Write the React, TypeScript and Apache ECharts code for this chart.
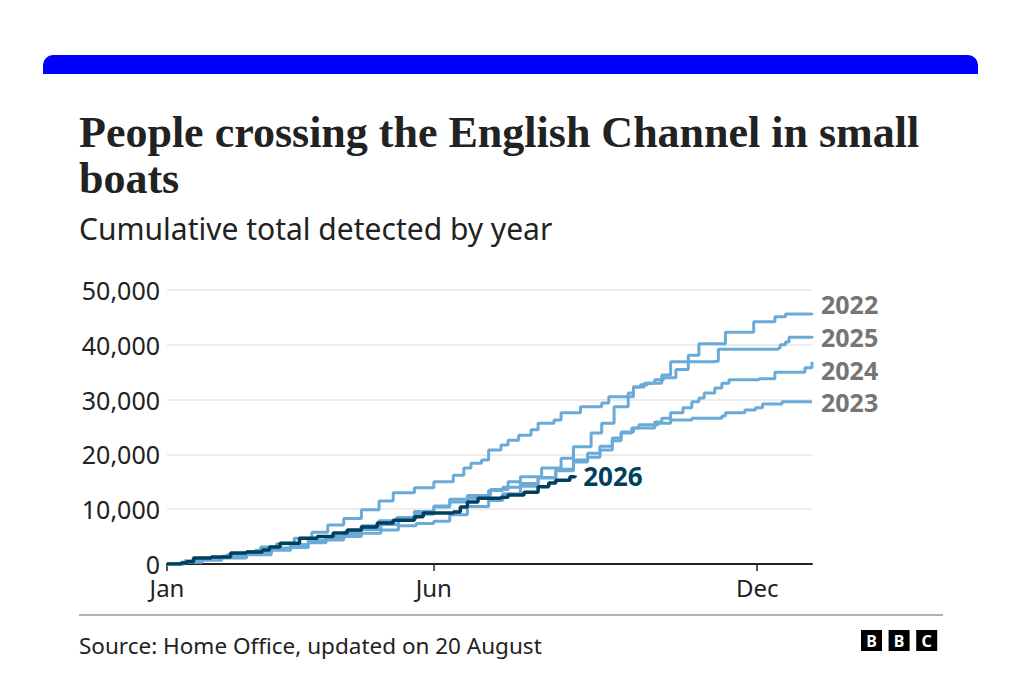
import React, { useEffect, useRef } from 'react';
import * as echarts from 'echarts';

// day of year (0 = 1 Jan), cumulative people detected
const year2022: [number, number][] = [
  [0, 0], [10, 600], [20, 1100], [31, 1400], [40, 1900], [50, 2500], [59, 2700], [70, 3500],
  [80, 4300], [90, 5000], [100, 5800], [110, 7000], [120, 7900], [130, 8500], [140, 9600],
  [151, 10600], [160, 11800], [170, 12500], [183, 13600], [193, 15000], [200, 15900],
  [212, 17500], [223, 19300], [230, 21400], [240, 23900], [246, 25700], [253, 28700],
  [261, 30500], [264, 32300], [270, 33000], [280, 34500], [285, 36900], [295, 38100],
  [301, 40200], [316, 42300], [332, 44200], [344, 45100], [350, 45600], [365, 45800],
];

const year2023: [number, number][] = [
  [0, 0], [10, 300], [20, 700], [31, 1100], [45, 1700], [59, 2500], [70, 3000], [80, 3900],
  [90, 4400], [100, 5000], [110, 5600], [121, 6200], [131, 7000], [141, 7400], [151, 7800],
  [160, 9000], [170, 10500], [182, 11600], [190, 12800], [200, 14200], [210, 15800],
  [220, 17300], [230, 19000], [238, 20200], [245, 21500], [252, 23000], [257, 23900],
  [263, 24800], [267, 25400], [278, 25700], [285, 26300], [297, 26600], [314, 27000],
  [316, 27600], [327, 28100], [333, 28500], [337, 29200], [348, 29600], [365, 29600],
];

const year2024: [number, number][] = [
  [0, 0], [10, 400], [20, 900], [31, 1300], [45, 2000], [59, 2900], [70, 3500], [80, 4300],
  [90, 4600], [100, 5500], [110, 6300], [121, 7200], [131, 8300], [141, 9100], [151, 10400],
  [160, 11300], [170, 12000], [182, 13400], [190, 14000], [200, 14700], [210, 15700],
  [220, 17000], [230, 18600], [238, 19500], [245, 20800], [252, 22500], [257, 24100],
  [264, 24800], [276, 25900], [280, 26600], [285, 27600], [292, 28500], [297, 29600],
  [301, 30300], [304, 31200], [310, 32100], [314, 33000], [318, 33600], [335, 33800],
  [344, 35000], [359, 35000], [361, 35800], [365, 36900],
];

const year2025: [number, number][] = [
  [0, 0], [8, 300], [15, 1000], [25, 1200], [34, 1700], [45, 2300], [53, 3100], [62, 3700],
  [72, 4700], [82, 5800], [91, 7100], [100, 8300], [110, 9900], [120, 11500], [128, 13000],
  [140, 13900], [151, 15000], [162, 16200], [168, 17500], [172, 18400], [178, 19000],
  [182, 20800], [189, 21700], [193, 22600], [199, 23500], [206, 24500], [210, 25700],
  [219, 26300], [223, 27600], [234, 28700], [246, 29400], [250, 30500], [261, 31200],
  [264, 32300], [268, 32700], [272, 33000], [276, 33600], [281, 34000], [288, 35500],
  [295, 36900], [309, 37000], [312, 39200], [346, 39400], [347, 40000], [350, 40500],
  [352, 41400], [365, 41600],
];

const year2026: [number, number][] = [
  [0, 0], [8, 200], [11, 400], [15, 1100], [25, 1300], [36, 2000], [45, 2200], [54, 2550],
  [58, 3100], [64, 3800], [75, 4700], [85, 5000], [94, 5650], [102, 6200], [110, 6750],
  [119, 7500], [128, 8000], [140, 8600], [145, 9300], [162, 9500], [166, 10400], [170, 11300],
  [176, 12000], [189, 12200], [193, 12600], [202, 13100], [210, 14100], [216, 14800],
  [220, 15300], [228, 15900], [231, 16100],
];

const monthTicks = [0, 151, 334];
const monthLabels = ['Jan', 'Jun', 'Dec'];
const yTicks = [0, 10000, 20000, 30000, 40000, 50000];

const LIGHT = '#6aaad9';
const DARK = '#00405f';
const SANS = '"Noto Sans", "Open Sans", sans-serif';

const App = () => {
  const chartRef = useRef<HTMLDivElement>(null);

  useEffect(() => {
    if (!chartRef.current) return;
    const chart = echarts.init(chartRef.current, null, { renderer: 'svg' });

    const pastYear = (name: string, data: [number, number][], offsetY: number) => ({
      name,
      type: 'line',
      step: 'end',
      data,
      symbol: 'none',
      lineStyle: { color: LIGHT, width: 3 },
      z: 2,
      endLabel: {
        show: true,
        formatter: name,
        color: '#757575',
        fontFamily: SANS,
        fontWeight: 'bold',
        fontSize: 25,
        lineHeight: 24,
        distance: 9,
        offset: [0, offsetY],
      },
    });

    const option = {
      animation: false,
      backgroundColor: '#ffffff',
      grid: { left: 167, right: 219, top: 290, bottom: 125 },
      xAxis: {
        type: 'value',
        min: 0,
        max: 365,
        axisLine: { show: true, lineStyle: { color: '#222', width: 2 } },
        axisTick: { show: true, customValues: monthTicks, length: 7, lineStyle: { color: '#222', width: 1.5 } },
        axisLabel: {
          customValues: monthTicks,
          formatter: (v: number) => monthLabels[monthTicks.indexOf(v)] ?? '',
          color: '#222',
          fontFamily: SANS,
          fontSize: 24,
          lineHeight: 22,
          margin: 12,
        },
        splitLine: { show: false },
      },
      yAxis: {
        type: 'value',
        min: 0,
        max: 50000,
        interval: 10000,
        axisLine: { show: false },
        axisTick: { show: false },
        axisLabel: {
          formatter: (v: number) => (yTicks.includes(v) ? v.toLocaleString('en-GB') : ''),
          color: '#222',
          fontFamily: SANS,
          fontSize: 25,
          lineHeight: 20,
          margin: 7,
        },
        splitLine: { show: true, lineStyle: { color: '#e6e6e6', width: 1.5 } },
      },
      series: [
        pastYear('2023', year2023, 0),
        pastYear('2024', year2024, 8),
        pastYear('2025', year2025, 1),
        pastYear('2022', year2022, -9),
        {
          name: '2026',
          type: 'line',
          step: 'end',
          data: year2026,
          symbol: 'none',
          lineStyle: { color: DARK, width: 3.5 },
          z: 5,
          endLabel: {
            show: true,
            formatter: '2026',
            color: DARK,
            fontFamily: SANS,
            fontWeight: 'bold',
            fontSize: 26,
            lineHeight: 24,
            distance: 8,
          },
        },
      ],
      graphic: [
        {
          type: 'rect',
          shape: { x: 43, y: 55, width: 935, height: 19, r: [10, 10, 0, 0] },
          style: { fill: '#0000ff' },
        },
        {
          type: 'text',
          x: 79,
          y: 109,
          style: {
            text: 'People crossing the English Channel in small\nboats',
            font: 'bold 44px "Liberation Serif", serif',
            lineHeight: 46,
            fill: '#222222',
          },
        },
        {
          type: 'text',
          x: 79,
          y: 213,
          style: {
            text: 'Cumulative total detected by year',
            font: `30px ${SANS}`,
            fill: '#222222',
          },
        },
        {
          type: 'line',
          shape: { x1: 79, y1: 615, x2: 943, y2: 615 },
          style: { stroke: '#999999', lineWidth: 1.5 },
        },
        {
          type: 'text',
          x: 79,
          y: 645,
          style: {
            text: 'Source: Home Office, updated on 20 August',
            font: `22.5px ${SANS}`,
            fill: '#222222',
            verticalAlign: 'middle',
          },
        },
        ...['B', 'B', 'C'].flatMap((ch, i) => [
          {
            type: 'rect',
            shape: { x: 861 + i * 27.6, y: 630, width: 21, height: 21 },
            style: { fill: '#000000' },
          },
          {
            type: 'text',
            x: 861 + i * 27.6 + 10.5,
            y: 641,
            style: {
              text: ch,
              font: `bold 16px ${SANS}`,
              fill: '#ffffff',
              align: 'center',
              verticalAlign: 'middle',
            },
          },
        ]),
      ],
    };

    chart.setOption(option as any);

    return () => {
      chart.dispose();
    };
  }, []);

  return (
    <div
      ref={chartRef}
      style={{ position: 'absolute', left: 0, top: 0, width: '1031px', height: '689px', background: '#fff' }}
    />
  );
};

export default App;
